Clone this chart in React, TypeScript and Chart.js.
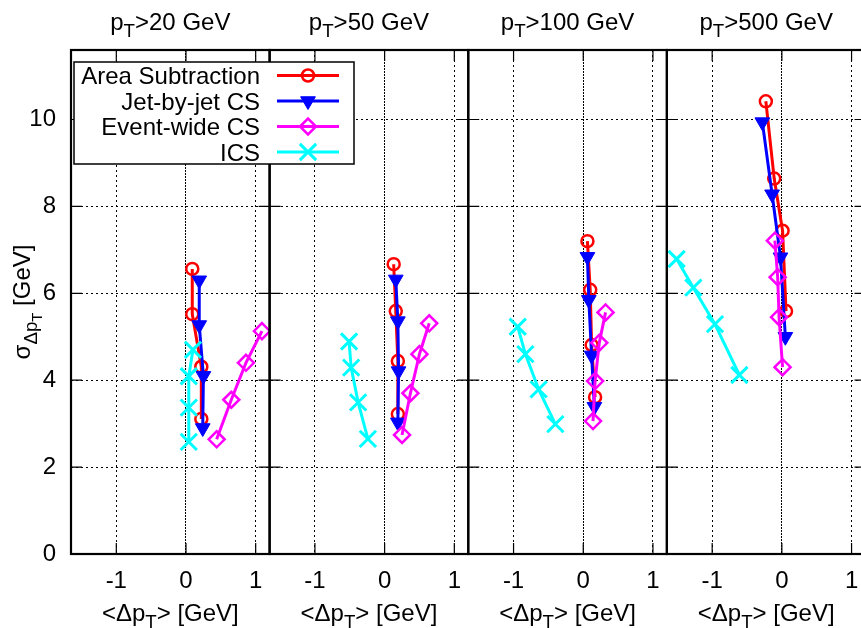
import React, { useEffect, useRef } from 'react';
import { Chart, registerables } from 'chart.js';

Chart.register(...registerables);

const FONT = "'Liberation Sans', Arial, Helvetica, sans-serif";

// ---- data ----
const thresholds = ['20', '50', '100', '500'];
const seriesLabels = ['Area Subtraction', 'Jet-by-jet CS', 'Event-wide CS', 'ICS'];
const xTicks = [-1, 0, 1];
const yTicks = [0, 2, 4, 6, 8, 10];
const xMin = -1.65;
const xMax = 1.2;
const yMin = 0;
const yMax = 11.6;

// one inner array per panel (pT > 20, 50, 100, 500 GeV)
const areaX = [[0.09, 0.09, 0.22, 0.22], [0.13, 0.16, 0.19, 0.19], [0.06, 0.10, 0.12, 0.17], [-0.23, -0.11, 0.01, 0.06]];
const areaY = [[6.56, 5.52, 4.31, 3.11], [6.67, 5.59, 4.44, 3.22], [7.20, 6.08, 4.81, 3.61], [10.42, 8.64, 7.44, 5.59]];

const jetX = [[0.19, 0.19, 0.25, 0.24], [0.16, 0.19, 0.20, 0.19], [0.06, 0.08, 0.12, 0.16], [-0.28, -0.14, -0.02, 0.05]];
const jetY = [[6.30, 5.27, 4.10, 2.90], [6.32, 5.36, 4.21, 3.03], [6.84, 5.85, 4.57, 3.39], [9.94, 8.28, 6.83, 5.00]];

const eventX = [[0.44, 0.65, 0.86, 1.09], [0.25, 0.37, 0.50, 0.64], [0.32, 0.23, 0.17, 0.14], [-0.10, -0.06, -0.04, 0.01]];
const eventY = [[2.64, 3.55, 4.40, 5.13], [2.74, 3.70, 4.60, 5.31], [5.56, 4.86, 3.98, 3.06], [7.21, 6.37, 5.45, 4.30]];

const icsX = [[0.04, 0.04, 0.04, 0.10], [-0.24, -0.38, -0.48, -0.51], [-0.94, -0.83, -0.64, -0.40], [-1.51, -1.27, -0.96, -0.61]];
const icsY = [[2.58, 3.37, 4.09, 4.70], [2.65, 3.49, 4.29, 4.89], [5.23, 4.60, 3.79, 2.99], [6.79, 6.13, 5.29, 4.12]];

// ---- styles ----
type Style = { color: string; pointStyle: string; radius: number; rotation: number; fill: boolean; pw: number; order: number };
const styles: Style[] = [
  { color: '#ff0000', pointStyle: 'circle', radius: 6, rotation: 0, fill: false, pw: 2.5, order: 4 },
  { color: '#0000ff', pointStyle: 'triangle', radius: 8.5, rotation: 180, fill: true, pw: 1, order: 3 },
  { color: '#ff00ff', pointStyle: 'rectRot', radius: 8, rotation: 0, fill: false, pw: 2.5, order: 2 },
  { color: '#00ffff', pointStyle: 'crossRot', radius: 11.5, rotation: 0, fill: false, pw: 3, order: 1 },
];
const seriesX = [areaX, jetX, eventX, icsX];
const seriesY = [areaY, jetY, eventY, icsY];
const panelIds = thresholds.map((_, i) => 'x' + i);

const FS = 24;
const TICK = 11;

type Seg = { t: string; l: number };
function drawRich(ctx: CanvasRenderingContext2D, segs: Seg[], x: number, y: number, size: number) {
  const sc = [1, 0.78, 0.62];
  const sh = [0, 0.3 * size, 0.3 * size + 0.22 * size];
  let total = 0;
  const widths = segs.map((s) => {
    ctx.font = `${size * sc[s.l]}px ${FONT}`;
    const w = ctx.measureText(s.t).width;
    total += w;
    return w;
  });
  let cx = x - total / 2;
  ctx.textAlign = 'left';
  ctx.textBaseline = 'alphabetic';
  segs.forEach((s, i) => {
    ctx.font = `${size * sc[s.l]}px ${FONT}`;
    ctx.fillText(s.t, cx, y + sh[s.l]);
    cx += widths[i];
  });
}

function drawMarker(ctx: CanvasRenderingContext2D, st: Style, x: number, y: number) {
  const r = st.radius;
  ctx.save();
  ctx.strokeStyle = st.color;
  ctx.fillStyle = st.color;
  ctx.lineWidth = st.pw;
  ctx.beginPath();
  if (st.pointStyle === 'circle') {
    ctx.arc(x, y, r, 0, Math.PI * 2);
    ctx.stroke();
  } else if (st.pointStyle === 'triangle') {
    let rad = (st.rotation * Math.PI) / 180;
    ctx.moveTo(x + Math.sin(rad) * r, y - Math.cos(rad) * r);
    rad += (2 * Math.PI) / 3;
    ctx.lineTo(x + Math.sin(rad) * r, y - Math.cos(rad) * r);
    rad += (2 * Math.PI) / 3;
    ctx.lineTo(x + Math.sin(rad) * r, y - Math.cos(rad) * r);
    ctx.closePath();
    ctx.fill();
    ctx.stroke();
  } else if (st.pointStyle === 'rectRot') {
    ctx.moveTo(x - r, y);
    ctx.lineTo(x, y - r);
    ctx.lineTo(x + r, y);
    ctx.lineTo(x, y + r);
    ctx.closePath();
    ctx.stroke();
  } else {
    const o = r * Math.SQRT1_2;
    ctx.moveTo(x - o, y - o);
    ctx.lineTo(x + o, y + o);
    ctx.moveTo(x + o, y - o);
    ctx.lineTo(x - o, y + o);
    ctx.stroke();
  }
  ctx.restore();
}

const framePlugin = {
  id: 'gnuplotFrame',
  afterDatasetsDraw(chart: any) {
    const ctx: CanvasRenderingContext2D = chart.ctx;
    const ca = chart.chartArea;
    const ys = chart.scales.y;
    panelIds.forEach((id) => {
      const s = chart.scales[id];
      ctx.save();
      ctx.strokeStyle = '#000';
      ctx.lineWidth = 1.2;
      ctx.beginPath();
      xTicks.forEach((v) => {
        const px = s.getPixelForValue(v);
        ctx.moveTo(px, ca.bottom);
        ctx.lineTo(px, ca.bottom - TICK);
        ctx.moveTo(px, ca.top);
        ctx.lineTo(px, ca.top + TICK);
      });
      yTicks.forEach((v) => {
        const py = ys.getPixelForValue(v);
        ctx.moveTo(s.left, py);
        ctx.lineTo(s.left + TICK, py);
        ctx.moveTo(s.right, py);
        ctx.lineTo(s.right - TICK, py);
      });
      ctx.stroke();
      ctx.lineWidth = 2.2;
      ctx.strokeRect(s.left, ca.top, s.right - s.left, ca.bottom - ca.top);
      ctx.restore();
    });

    // key box
    const bx = ca.left + 3;
    const by = ca.top + 12;
    const bw = 280;
    const bh = 102;
    ctx.save();
    ctx.fillStyle = '#fff';
    ctx.fillRect(bx, by, bw, bh);
    ctx.strokeStyle = '#000';
    ctx.lineWidth = 1.5;
    ctx.strokeRect(bx, by, bw, bh);
    seriesLabels.forEach((lab, i) => {
      const cy = by + 13.5 + i * 25.5;
      const st = styles[i];
      ctx.fillStyle = '#000';
      ctx.font = `${FS}px ${FONT}`;
      ctx.textAlign = 'right';
      ctx.textBaseline = 'alphabetic';
      ctx.fillText(lab, bx + 186, cy + 8.5);
      ctx.strokeStyle = st.color;
      ctx.lineWidth = 3;
      ctx.beginPath();
      ctx.moveTo(bx + 203, cy);
      ctx.lineTo(bx + 265, cy);
      ctx.stroke();
      drawMarker(ctx, st, bx + 234, cy);
    });
    ctx.restore();
  },
  afterDraw(chart: any) {
    const ctx: CanvasRenderingContext2D = chart.ctx;
    const ca = chart.chartArea;
    ctx.save();
    ctx.fillStyle = '#000';
    panelIds.forEach((id, i) => {
      const s = chart.scales[id];
      const cx = (s.left + s.right) / 2;
      drawRich(ctx, [{ t: 'p', l: 0 }, { t: 'T', l: 1 }, { t: '>' + thresholds[i] + ' GeV', l: 0 }], cx, ca.top - 20, FS);
      drawRich(ctx, [{ t: '<Δp', l: 0 }, { t: 'T', l: 1 }, { t: '> [GeV]', l: 0 }], cx, ca.bottom + 67, FS);
    });
    ctx.translate(30, (ca.top + ca.bottom) / 2);
    ctx.rotate(-Math.PI / 2);
    drawRich(ctx, [{ t: 'σ', l: 0 }, { t: 'Δp', l: 1 }, { t: 'T', l: 2 }, { t: ' [GeV]', l: 0 }], 0, 0, FS);
    ctx.restore();
  },
};

export default function App() {
  const ref = useRef<HTMLCanvasElement | null>(null);
  useEffect(() => {
    if (!ref.current) return;
    const datasets: any[] = [];
    seriesLabels.forEach((label, si) => {
      const st = styles[si];
      panelIds.forEach((id, pi) => {
        datasets.push({
          label,
          xAxisID: id,
          yAxisID: 'y',
          data: seriesX[si][pi].map((x, k) => ({ x, y: seriesY[si][pi][k] })),
          showLine: true,
          borderColor: st.color,
          backgroundColor: st.color,
          borderWidth: 3,
          pointStyle: st.pointStyle,
          pointRadius: st.radius,
          pointRotation: st.rotation,
          pointBorderWidth: st.pw,
          pointBorderColor: st.color,
          pointBackgroundColor: st.fill ? st.color : 'rgba(0,0,0,0)',
          fill: false,
          order: st.order,
          tension: 0,
        });
      });
    });

    const scales: any = {
      y: {
        type: 'linear',
        position: 'left',
        min: yMin,
        max: yMax,
        afterBuildTicks: (s: any) => {
          s.ticks = yTicks.map((v) => ({ value: v }));
        },
        afterFit: (s: any) => {
          s.width = 71;
        },
        ticks: { color: '#000', font: { family: FONT, size: FS }, padding: 15 },
        grid: { color: '#000', lineWidth: 1, drawTicks: false },
        border: { display: false, dash: [2, 3] },
      },
    };
    panelIds.forEach((id) => {
      scales[id] = {
        type: 'linear',
        position: 'bottom',
        stack: 'panels',
        stackWeight: 1,
        min: xMin,
        max: xMax,
        afterBuildTicks: (s: any) => {
          s.ticks = xTicks.map((v) => ({ value: v }));
        },
        afterFit: (s: any) => {
          s.height = 74;
        },
        ticks: { color: '#000', font: { family: FONT, size: FS }, padding: 13, maxRotation: 0, autoSkip: false },
        grid: { color: '#000', lineWidth: 1, drawTicks: false },
        border: {
          display: false,
          dash: (c: any) => (c.tick && c.tick.value === 0 ? [2, 1] : [2, 3]),
        },
      };
    });

    const chart = new Chart(ref.current, {
      type: 'scatter',
      data: { datasets },
      options: {
        responsive: false,
        maintainAspectRatio: false,
        devicePixelRatio: 1,
        animation: false,
        layout: { padding: { top: 50, right: 12, bottom: 0, left: 0 } },
        plugins: { legend: { display: false }, tooltip: { enabled: false } },
        scales,
      } as any,
      plugins: [framePlugin as any],
    });
    return () => chart.destroy();
  }, []);

  return (
    <div style={{ position: 'fixed', left: 0, top: 0, width: 861, height: 628, overflow: 'hidden', background: '#fff' }}>
      <canvas ref={ref} width={880} height={628} style={{ display: 'block' }} />
    </div>
  );
}
